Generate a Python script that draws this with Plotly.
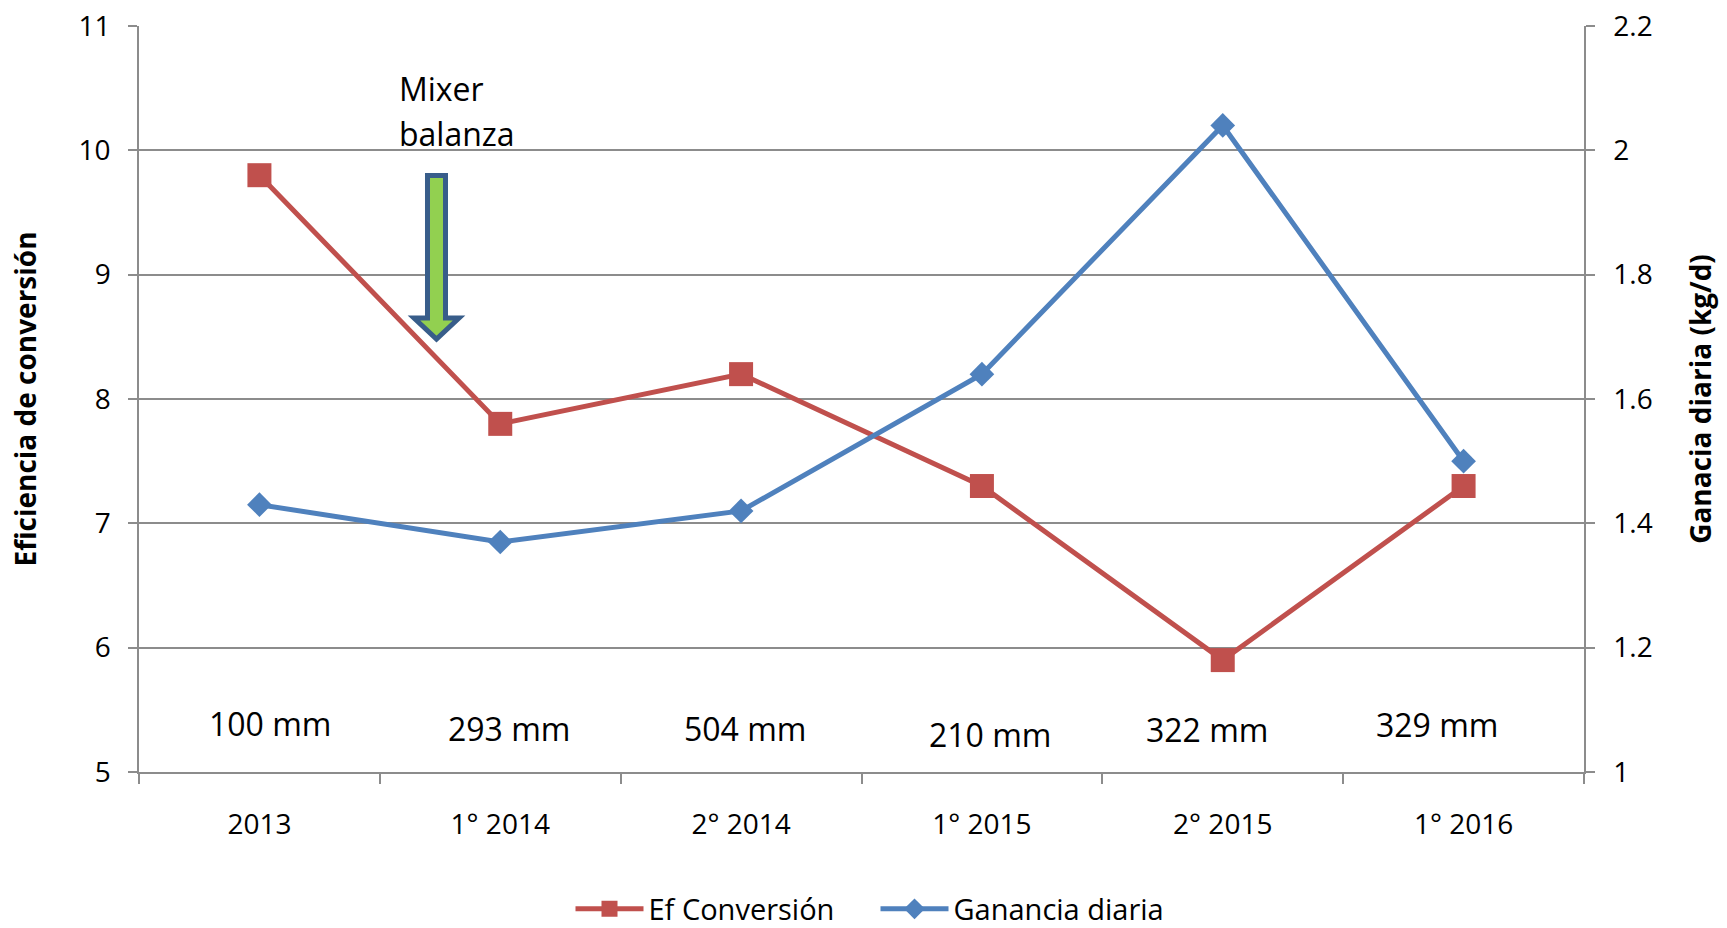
import plotly.graph_objects as go

categories = ["2013", "1° 2014", "2° 2014", "1° 2015", "2° 2015", "1° 2016"]
ef_conversion = [9.8, 7.8, 8.2, 7.3, 5.9, 7.3]
ganancia_diaria = [1.43, 1.37, 1.42, 1.64, 2.04, 1.50]
rainfall_labels = ["100 mm", "293 mm", "504 mm", "210 mm", "322 mm", "329 mm"]

# style / placement helpers
rain_y = [5.39, 5.35, 5.35, 5.30, 5.34, 5.38]
rain_xshift = [11, 9, 4, 8, -16, -27]

W, H = 1727, 928
L, R, T, B = 139, 143, 26, 156
PW, PH = W - L - R, H - T - B
FONT = "Open Sans"
RED = "#C0504D"
BLUE = "#4F81BD"
GRID = "#8C8C8C"
FS = 28
FA = 32


def px(x):
    return (x - L) / PW


def py(y):
    return (H - B - y) / PH


fig = go.Figure()
fig.add_trace(go.Scatter(
    x=categories, y=ef_conversion, name="Ef Conversión", mode="lines+markers",
    line=dict(color=RED, width=5),
    marker=dict(symbol="square", size=24, color=RED),
))
fig.add_trace(go.Scatter(
    x=categories, y=ganancia_diaria, name="Ganancia diaria", mode="lines+markers",
    yaxis="y2",
    line=dict(color=BLUE, width=5),
    marker=dict(symbol="diamond", size=19, color=BLUE),
))

for i, (lab, yy, xs) in enumerate(zip(rainfall_labels, rain_y, rain_xshift)):
    fig.add_annotation(x=i, y=yy, xref="x", yref="y", text=lab, showarrow=False,
                       xshift=xs, font=dict(family=FONT, size=FA, color="#000000"))

# arrow (Mixer balanza)
cx, top, sh, hs, hh, tip = 436.5, 175.5, 9, 22.5, 318, 339
pts = [(cx - sh, top), (cx + sh, top), (cx + sh, hh), (cx + hs, hh), (cx, tip),
       (cx - hs, hh), (cx - sh, hh)]
path = "M " + " L ".join(f"{px(a):.5f},{py(b):.5f}" for a, b in pts) + " Z"
fig.add_shape(type="path", path=path, xref="paper", yref="paper",
              fillcolor="#92D050", line=dict(color="#385D8A", width=5))

fig.add_annotation(x=px(397), y=py(88), xref="paper", yref="paper", text="Mixer",
                   showarrow=False, xanchor="left", yanchor="middle",
                   font=dict(family=FONT, size=FA, color="#000000"))
fig.add_annotation(x=px(397), y=py(133), xref="paper", yref="paper", text="balanza",
                   showarrow=False, xanchor="left", yanchor="middle",
                   font=dict(family=FONT, size=FA, color="#000000"))

fig.update_layout(
    width=W, height=H,
    margin=dict(l=L, r=R, t=T, b=B),
    plot_bgcolor="white", paper_bgcolor="white",
    font=dict(family=FONT, size=FS, color="#000000"),
    showlegend=True,
    legend=dict(orientation="h", xref="container", yref="container",
                x=0.5 + 12 / W, xanchor="center", y=1 - 909 / H, yanchor="middle",
                font=dict(family=FONT, size=29), itemwidth=68, entrywidth=222),
    xaxis=dict(
        type="category", tickson="boundaries", ticks="outside", ticklen=10,
        tickcolor=GRID, tickwidth=1.5, showline=True, linecolor=GRID, linewidth=1.5,
        showgrid=False, ticklabelstandoff=27, automargin=False, range=[-0.5, 5.5],
        tickangle=0, tickfont=dict(family=FONT, size=FS),
    ),
    yaxis=dict(
        range=[5, 11], dtick=1, showgrid=True, gridcolor=GRID, gridwidth=1.5,
        showline=True, linecolor=GRID, linewidth=1.5, ticks="outside", ticklen=9,
        tickcolor=GRID, tickwidth=1.5, zeroline=False, ticklabelstandoff=12,
        automargin=False, tickfont=dict(family=FONT, size=FS),
        title=dict(text="<b>Eficiencia de conversión</b>", standoff=34,
                   font=dict(family=FONT, size=28)),
    ),
    yaxis2=dict(
        range=[1, 2.2], dtick=0.2, overlaying="y", side="right", showgrid=False,
        showline=True, linecolor=GRID, linewidth=1.5, ticks="outside", ticklen=9,
        tickcolor=GRID, tickwidth=1.5, zeroline=False, ticklabelstandoff=13,
        automargin=False, tickfont=dict(family=FONT, size=FS),
        title=dict(text="<b>Ganacia diaria (kg/d)</b>", standoff=40,
                   font=dict(family=FONT, size=28)),
    ),
)

fig.write_html("out.html", config={"displayModeBar": False},
               post_script="document.body.style.margin='0';")
